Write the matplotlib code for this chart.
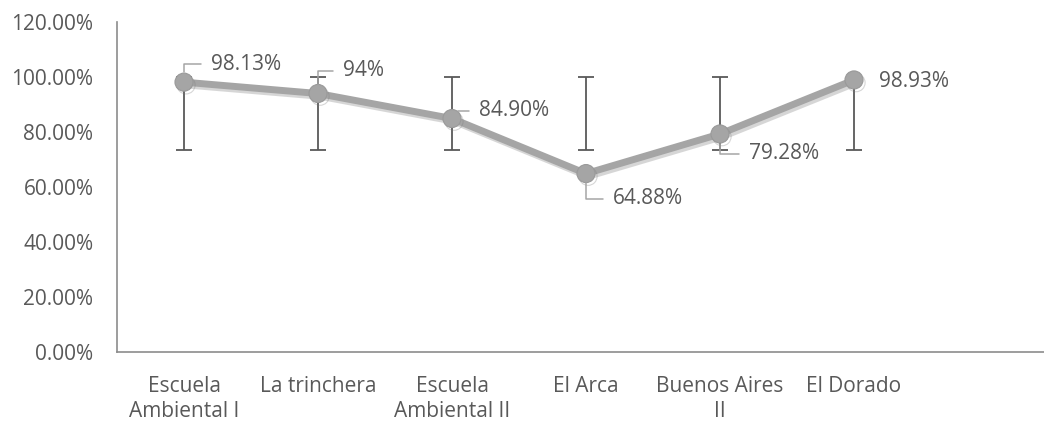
import matplotlib
matplotlib.use("Agg")
import matplotlib.pyplot as plt
import matplotlib.patheffects as pe
from matplotlib.ticker import FuncFormatter, MultipleLocator

categories = ["Escuela\nAmbiental I", "La trinchera", "Escuela\nAmbiental II",
              "El Arca", "Buenos Aires\nII", "El Dorado"]
values = [98.13, 94.0, 84.90, 64.88, 79.28, 98.93]
labels = ["98.13%", "94%", "84.90%", "64.88%", "79.28%", "98.93%"]
err_low = [73.5, 73.5, 73.5, 73.5, 73.5, 73.5]
err_high = [100, 100, 100, 100, 100, 100]
# label offsets in pixels (dx, dy up), and whether a leader line is drawn
label_off = [(27, 18), (25, 23), (27, 8), (27, -25), (29, -20), (25, -2)]
leader = [True, True, True, True, True, False]

plt.rcParams['font.family'] = ['Open Sans', 'DejaVu Sans']
TXT = '#595959'
DPI = 100
FS = 15
fig = plt.figure(figsize=(10.44, 4.21), dpi=DPI)
W, H = 1044, 421
left, right, bottom, top = 117, 1055, 352, 22
ax = fig.add_axes([left / W, 1 - bottom / H, (right - left) / W, (bottom - top) / H])

x = list(range(len(values)))
mid = [(l + h) / 2 for l, h in zip(err_low, err_high)]
half = [(h - l) / 2 for l, h in zip(err_low, err_high)]
ax.errorbar(x, mid, yerr=half, fmt='none', ecolor='#595959',
            elinewidth=1.3, capsize=6, capthick=1.3, zorder=2)
ax.plot(x, values, color='#A5A5A5', lw=5, marker='o', markersize=13,
        markerfacecolor='#A5A5A5', markeredgecolor='#999999', markeredgewidth=0.8,
        solid_joinstyle='round', zorder=3,
        path_effects=[pe.SimpleLineShadow(offset=(1.5, -2), shadow_color='#7a7a7a', alpha=0.3),
                      pe.Normal()])

px = 72.0 / DPI
for xi, v, lab, (dx, dy), ld in zip(x, values, labels, label_off, leader):
    ap = None
    if ld:
        ap = dict(arrowstyle='-', color='#A5A5A5', lw=1.1,
                  connectionstyle='angle,angleA=0,angleB=90,rad=0',
                  shrinkA=5, shrinkB=7, relpos=(0, 0.5))
    ax.annotate(lab, xy=(xi, v), xytext=(dx * px, dy * px), textcoords='offset points',
                ha='left', va='center', fontsize=FS, color=TXT, arrowprops=ap, zorder=4)

ax.set_xlim(-0.5, 6.5)
ax.set_ylim(0, 120)
ax.yaxis.set_major_locator(MultipleLocator(20))
ax.yaxis.set_major_formatter(FuncFormatter(lambda v, p: f"{v:.2f}%"))
ax.set_xticks(x)
ax.set_xticklabels(categories, linespacing=1.25)
ax.tick_params(axis='both', length=0, colors=TXT, labelsize=FS)
ax.tick_params(axis='y', pad=17)
ax.tick_params(axis='x', pad=17)
for s in ['top', 'right']:
    ax.spines[s].set_visible(False)
for s in ['left', 'bottom']:
    ax.spines[s].set_color('#8C8C8C')
    ax.spines[s].set_linewidth(1.2)

fig.savefig('out.png', dpi=DPI)
